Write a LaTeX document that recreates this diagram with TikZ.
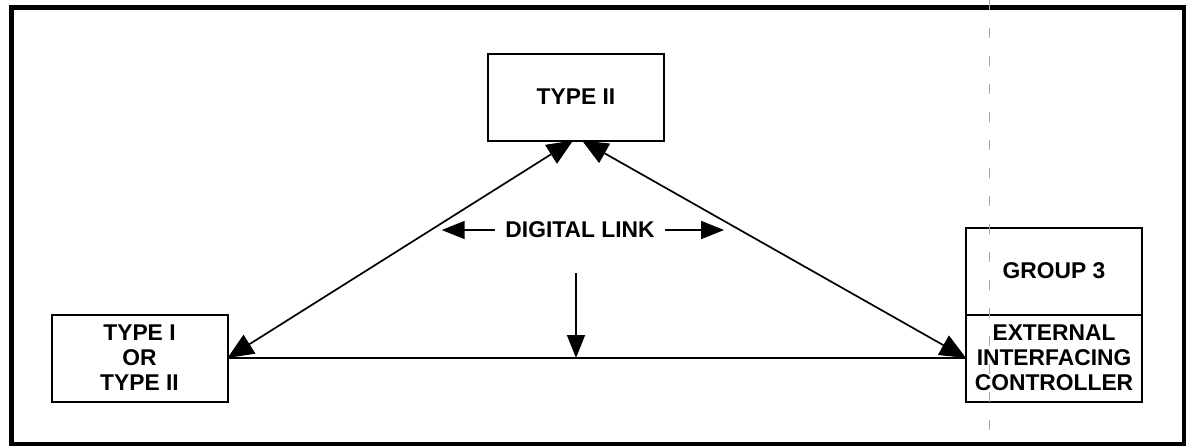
\documentclass[tikz,border=0pt]{standalone}
\usepackage{fontspec}
\setmainfont{Liberation Sans}
\usepackage{tikz}
\usetikzlibrary{arrows.meta}
\usetikzlibrary{calc}
\usetikzlibrary{positioning}

\begin{document}
\begin{tikzpicture}[
  x=0.5pt, y=-0.5pt,
  >={Triangle[length=11.5pt,width=9pt]},
  % unitBox/.style={draw, minimum width=88pt, minimum height=44pt},
  unitBox/.style={draw, line width=1pt, rectangle, outer sep=0pt,
    minimum width=88pt, minimum height=43.5pt, align=center,
    font=\fontsize{11.4}{12.5}\selectfont\bfseries},
  linkLine/.style={line width=0.85pt},
  bigTips/.style={{Triangle[length=13pt,width=11pt]}-{Triangle[length=13pt,width=11pt]}},
]

\tikzset{
  foldMark/.style={draw=gray!70, line width=0.5pt, dash pattern=on 5pt off 9pt}
}

\useasboundingbox (0,0) rectangle (1186,445);

% --- outer frame ---
\draw[line width=2.5pt] (11,7) rectangle (1184,444);

% --- units ---
\node[unitBox] (tTwo) at (576,97) {TYPE II};
\node[unitBox] (lBox) at (139.5,358) {TYPE I\\OR\\TYPE II};
\node[unitBox] (grpUp) at (1054,271) {GROUP 3};
\node[unitBox, below=0pt of grpUp] (xLow) {EXTERNAL\\INTERFACING\\CONTROLLER};

\node[font=\fontsize{11.4}{12.5}\selectfont\bfseries, inner xsep=5pt] (dLink) at (580,230) {DIGITAL LINK};

% --- links ---
\coordinate (tTwoL) at ([xshift=-1.5pt]tTwo.south);
\coordinate (tTwoR) at ([xshift=3pt]tTwo.south);
\draw[linkLine,bigTips] (tTwoL) -- (lBox.east);
\draw[linkLine,bigTips] (tTwoR) -- (xLow.west);
\draw[linkLine] (lBox.east) -- (lBox.east -| xLow.west);

\coordinate (hitL) at ($(tTwoL)!0.38!(lBox.east)$);
\coordinate (hitR) at ($(tTwoR)!0.37!(xLow.west)$);
\draw[linkLine,->] (dLink.west) -- (dLink.west -| hitL);
\draw[linkLine,->] (dLink.east) -- (dLink.east -| hitR);

\coordinate (vTop) at (576,273);
\draw[linkLine,->] (vTop) -- (vTop |- lBox.east);

% fold line of the sheet
\draw[foldMark] (989,0) -- (989,445);

\end{tikzpicture}
\end{document}
